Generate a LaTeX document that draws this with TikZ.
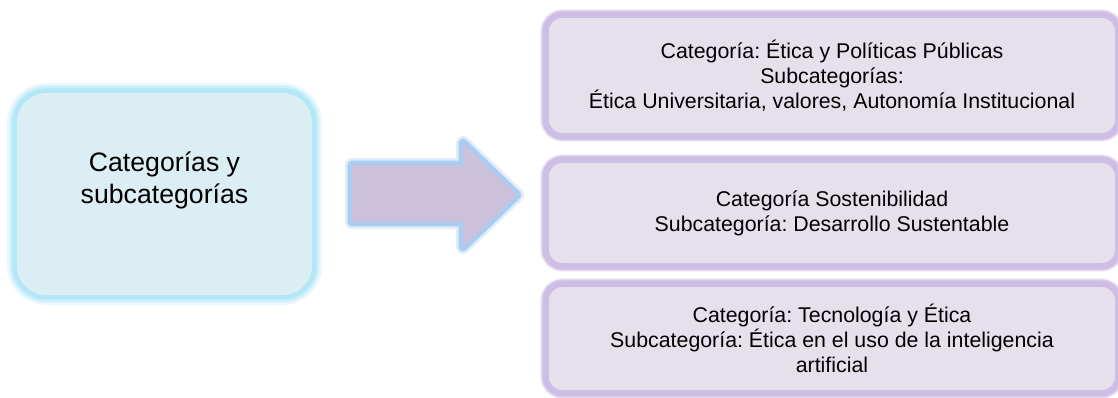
\documentclass[tikz,border=0pt]{standalone}
\usepackage{fontspec}
\setmainfont{Liberation Sans}
\frenchspacing
\definecolor{catfill}{HTML}{DAEEF3}
\definecolor{catglow}{HTML}{B3E7F8}
\definecolor{catglowmid}{HTML}{CDEFFA}
\definecolor{catglowout}{HTML}{EAF8FD}
\definecolor{arrowfill}{HTML}{CCC1DA}
\definecolor{arrowglow}{HTML}{A9CCF1}
\definecolor{arrowglowout}{HTML}{E0ECFA}
\definecolor{subfill}{HTML}{E5E0EC}
\definecolor{subglow}{HTML}{CDBEE5}
\definecolor{subglowmid}{HTML}{DCD0EE}
\definecolor{subglowout}{HTML}{F0EAF7}

\begin{document}
\begin{tikzpicture}
[x=0.75pt,y=-0.75pt,
catbox/.style={rectangle,rounded corners=22pt,fill=catfill,inner sep=0pt,align=center,
  preaction={draw=catglowout,line width=15pt},
  preaction={draw=catglowmid,line width=11pt},
  preaction={draw=catglow,line width=7pt},
  font=\fontsize{20}{24}\selectfont},
subbox/.style={rectangle,rounded corners=10pt,fill=subfill,inner sep=0pt,align=center,
  minimum width=424.5pt,
  preaction={draw=subglowout,line width=13pt},
  preaction={draw=subglowmid,line width=11.5pt},
  preaction={draw=subglow,line width=9.5pt},
  font=\fontsize{16}{18.75}\selectfont},
bigarrow/.style={fill=arrowfill,line join=round,
  preaction={draw=arrowglowout,line width=10.5pt,line join=round},
  preaction={draw=arrowglow,line width=6.5pt,line join=round}}]
\useasboundingbox (0,0) rectangle (1118,397);
% left box
\node[catbox,minimum width=221.25pt,minimum height=151.5pt,text depth=24pt] (cat) at (164.5,194) {Categorías y\\subcategorías};
% block arrow
\fill[bigarrow] (352,165) -- (463,165) -- (463,143) -- (517,195) -- (463,247) -- (463,222) -- (352,222) -- cycle;
% right boxes
\node[subbox,minimum height=86.25pt] (etica) at (832,75.5) {Categoría: Ética y Políticas Públicas\\Subcategorías:\\Ética Universitaria, valores, Autonomía Institucional};
\node[subbox,minimum height=75pt] (sost) at (832,213) {Categoría Sostenibilidad\\Subcategoría: Desarrollo Sustentable};
\node[subbox,minimum height=77.25pt] (tec) at (832,338.5) {Categoría: Tecnología y Ética\\Subcategoría: Ética en el uso de la inteligencia\\artificial};
\end{tikzpicture}
\end{document}
